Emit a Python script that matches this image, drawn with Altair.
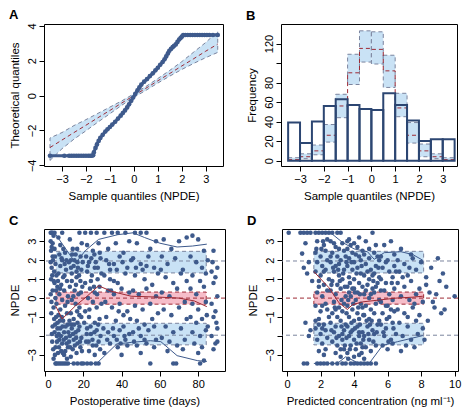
import altair as alt
import pandas as pd

FONT = "Liberation Sans"
PT = "#3E5A8C"
BAR = "#2C4672"
BLUE_BAND = "#C9E2F5"
PINK_BAND = "#F6BDC9"
DASH_GREY = "#7B849E"
DARK_RED = "#9E2A35"

# ---------------- Panel A: QQ plot ----------------
qq_points = [
    (-3.5, -3.45), (-2.9, -3.45), (-2.7, -3.45), (-2.6, -3.45), (-2.5, -3.45), (-2.4, -3.45),
    (-2.3, -3.45), (-2.2, -3.45), (-2.1, -3.45), (-2.0, -3.45), (-1.9, -3.45), (-1.82, -3.45),
    (-1.75, -3.45), (-1.7, -3.42), (-1.67, -3.26), (-1.6, -3.0), (-1.54, -2.8), (-1.47, -2.6),
    (-1.4, -2.43), (-1.3, -2.25), (-1.19, -2.06), (-1.1, -1.93), (-1.0, -1.8), (-0.9, -1.66),
    (-0.78, -1.5), (-0.66, -1.32), (-0.55, -1.15), (-0.46, -1.0), (-0.37, -0.85), (-0.28, -0.68),
    (-0.2, -0.5), (-0.11, -0.3), (-0.03, -0.11), (0.06, 0.1), (0.15, 0.3), (0.23, 0.47),
    (0.31, 0.63), (0.43, 0.8), (0.55, 0.95), (0.67, 1.12), (0.79, 1.28), (0.9, 1.45),
    (1.0, 1.6), (1.1, 1.77), (1.2, 1.93), (1.28, 2.08), (1.35, 2.25), (1.42, 2.42),
    (1.48, 2.57), (1.55, 2.68), (1.62, 2.78), (1.68, 2.86), (1.75, 2.94), (1.82, 3.08),
    (1.89, 3.22), (1.95, 3.3), (2.0, 3.38), (2.06, 3.47), (2.15, 3.48), (2.25, 3.48),
    (2.35, 3.48), (2.45, 3.48), (2.55, 3.48), (2.65, 3.48), (2.75, 3.48), (2.85, 3.48),
    (2.95, 3.48), (3.05, 3.48), (3.15, 3.48), (3.3, 3.48), (3.5, 3.48),
]
qq_band_x = [-3.5, -3, -2.5, -2, -1.5, -1, -0.5, 0, 0.5, 1, 1.5, 2, 2.5, 3, 3.5]
qq_band_mid = [-2.98, -2.55, -2.12, -1.7, -1.27, -0.85, -0.42, 0, 0.42, 0.85, 1.27, 1.7, 2.12, 2.55, 2.96]
qq_band_hi = [-2.43, -2.12, -1.72, -1.38, -1.02, -0.66, -0.3, 0.1, 0.52, 0.98, 1.45, 1.95, 2.5, 3.05, 3.68]
qq_band_lo = [-3.72, -3.05, -2.5, -2.02, -1.52, -1.04, -0.55, -0.1, 0.3, 0.72, 1.12, 1.5, 1.85, 2.18, 2.48]

# ---------------- Panel B: histogram ----------------
bin_left = [-3.5, -3.0, -2.5, -2.0, -1.5, -1.0, -0.5, 0.0, 0.5, 1.0, 1.5, 2.0, 2.5, 3.0]
bin_width = 0.5
bin_count = [39, 18, 40, 56, 63, 57, 53, 52, 69, 57, 41, 20, 22, 22]
pi_lo = [0, 2, 6, 19, 44, 78, 101, 99, 75, 45, 18, 4, 2, 0]
pi_med = [1, 4, 10, 26, 56, 90, 115, 114, 92, 54, 26, 10, 4, 1]
pi_hi = [3, 7, 16, 37, 68, 109, 133, 132, 108, 69, 39, 17, 7, 3]

# ---------------- Panel C: NPDE vs time ----------------
c_points = [
    (3, 3.45), (4, 3.45), (5, 3.45), (3.5, 3.45), (4.5, 3.3), (3, 3.0), (4, 2.9), (3.2, 2.5), (5, 2.6),
    (4, 2.2), (3, 1.9), (5.5, 1.8), (3.5, 1.6), (4.8, 1.4), (6, 1.2), (3.2, 1.0), (5, 0.8), (6.5, 0.6),
    (4, 0.4), (3, 0.2), (5.5, 0.0), (6, -0.3), (4.5, -0.5), (3.3, -0.8), (5.8, -1.0), (6.5, -1.3),
    (4, -1.5), (5, -1.8), (6.2, -2.0), (3.8, -2.3), (5.5, -2.6), (6.8, -2.9), (4.5, -3.2), (6, -3.45),
    (7, -3.45), (5.5, -3.45),
    (7, 3.2), (8, 2.8), (9, 3.45), (7.5, 2.3), (9, 2.0), (10.5, 2.4), (8, 1.7), (11, 1.5), (7, 1.3),
    (9.5, 1.1), (11.5, 0.9), (8.5, 0.7), (10, 0.4), (7.5, 0.2), (12, 0.1), (9, -0.1), (10.5, -0.4),
    (8, -0.6), (11.5, -0.8), (7, -0.9), (9.5, -1.2), (12, -1.4), (8, -1.6), (10, -1.8), (11, -2.1),
    (7.5, -2.2), (9, -2.4), (12, -2.6), (8.5, -2.8), (10, -3.0), (11.5, -3.2), (8, -3.45), (9, -3.45),
    (10, -3.45), (11, -3.45), (12, -3.45), (7.2, -1.9), (9.2, -1.5), (10.3, 1.8), (8.7, 2.1),
    (11.8, -0.2), (6.8, 0.9),
    (13, 3.1), (14.5, 2.6), (16, 2.3), (18, 3.45), (13.5, 2.0), (15, 1.7), (17, 1.9), (19, 1.5),
    (14, 1.3), (16.5, 1.1), (18.5, 0.9), (13, 0.6), (15.5, 0.4), (17.5, 0.2), (19.5, 0.6), (14, -0.1),
    (16, -0.3), (18, -0.5), (13.5, -0.8), (15, -1.1), (17, -1.3), (19, -1.0), (14, -1.6), (16, -1.8),
    (18, -1.5), (13, -2.0), (15, -2.2), (17, -2.4), (19, -2.1), (14.5, -2.7), (16.5, -2.9),
    (18.5, -2.6), (13.5, -3.1), (15, -3.45), (17, -3.45), (19, -3.45), (20, -3.45), (14, 0.9),
    (16.5, 1.4), (18, -0.9), (12.8, -1.2), (17.8, 1.2),
    (21, 3.45), (24, 3.45), (27, 3.45), (22, 2.8), (25, 2.5), (28, 2.9), (21.5, 2.2), (23, 1.9),
    (26, 1.6), (29, 2.1), (22, 1.4), (24.5, 1.2), (27.5, 1.0), (21, 0.8), (23.5, 0.5), (26, 0.3),
    (28.5, 0.6), (22.5, 0.0), (25, -0.2), (27, -0.5), (29.5, -0.3), (21, -0.7), (23, -1.0),
    (26, -1.3), (28.5, -1.1), (22, -1.6), (24, -1.9), (27, -1.7), (29, -2.0), (21.5, -2.3),
    (25, -2.5), (28, -2.3), (23, -2.8), (26, -3.0), (22, -3.45), (24, -3.45), (26.5, -3.45),
    (28, -3.45), (24, 0.9), (26.5, 1.9), (20.5, -1.3), (29.5, 1.3),
    (31, 3.45), (35, 3.45), (38, 3.45), (42, 3.45), (33, 2.6), (37, 2.9), (41, 2.4), (44, 3.0),
    (32, 2.0), (36, 1.8), (39, 2.2), (43, 1.6), (31, 1.2), (34, 1.0), (38, 0.8), (42, 1.3),
    (33, 0.4), (36, 0.2), (40, 0.5), (44, 0.3), (31.5, -0.2), (35, -0.5), (39, -0.3), (43, -0.7),
    (32, -1.0), (37, -1.2), (41, -1.5), (44.5, -1.1), (33, -1.8), (36, -2.0), (39, -1.7),
    (42, -2.2), (34, -2.4), (38, -2.6), (43, -2.5), (31, -2.9), (40, -3.0), (36, 0.9), (41, -0.9),
    (34, 1.5), (45, 2.0), (30.5, -1.6),
    (47, 3.45), (50, 3.45), (53, 3.45), (48, 2.9), (55, 2.6), (58, 3.0), (46, 2.1), (50, 1.8),
    (54, 2.2), (57, 1.6), (47, 1.2), (52, 1.0), (56, 0.7), (59, 1.3), (46, 0.4), (49, 0.2),
    (53, 0.5), (58, 0.1), (47, -0.4), (51, -0.6), (55, -0.3), (59, -0.8), (48, -1.2), (52, -1.4),
    (56, -1.1), (46, -1.8), (50, -2.0), (54, -1.7), (58, -2.2), (48, -2.5), (53, -2.4), (57, -2.6),
    (55, -3.45), (50, -2.9), (51, 1.5), (57, -1.5),
    (62, 3.1), (66, 2.6), (70, 3.0), (74, 3.2), (61, 2.2), (64, 1.8), (68, 2.1), (72, 1.5),
    (63, 1.1), (67, 0.8), (71, 1.3), (74, 0.9), (61, 0.3), (65, 0.1), (69, 0.5), (73, -0.2),
    (62, -0.6), (66, -0.9), (70, -0.5), (74, -1.1), (63, -1.5), (67, -1.8), (71, -1.6), (61, -2.1),
    (65, -2.3), (69, -2.5), (73, -2.2), (64, -2.8), (67, -3.45), (68.5, -3.45), (72, -2.7),
    (60.5, 1.5),
    (77, 3.3), (80, 3.1), (83, 2.5), (76, 2.2), (79, 1.9), (82, 1.6), (85, 2.0), (77, 1.2),
    (81, 0.9), (84, 1.3), (76, 0.5), (79, 0.2), (83, 0.6), (77, -0.3), (80, -0.6), (84, -0.2),
    (76, -1.0), (79, -1.3), (82, -1.1), (85, -1.5), (77, -1.8), (81, -2.0), (84, -1.7), (78, -2.4),
    (82, -2.6), (80, -2.9), (81, -3.45), (83, -3.3), (84.5, -0.9),
    (88, 2.5), (90, 1.6), (87, 1.4), (89, 1.1), (88, 0.8), (90, 0.1), (87, -0.3), (89, -0.7),
    (88, -1.0), (90, -1.6), (87, -2.0), (89, -2.4), (88, -2.7), (90, -2.3), (87.5, 1.9), (89.5, -1.3),
    # denser early region
    (3.5, 2.7), (4.2, 2.0), (5.2, 2.2), (3.8, 1.2), (4.6, 0.9), (5.8, 0.4), (3.4, -0.2), (4.8, -1.1),
    (5.3, -1.4), (3.6, -1.9), (4.3, -2.7), (6.3, -2.3), (5.2, -3.0), (6.6, -1.6), (7.8, -1.2),
    (8.3, -2.0), (9.8, -2.2), (10.8, -1.5), (11.3, -2.4), (7.3, -2.6), (9.3, -2.9), (10.6, -2.8),
    (8.8, -1.0), (7.9, 0.5), (10.2, 1.2), (11.2, 2.0), (9.6, 2.6), (12.5, 1.9), (12.2, -1.8),
    (12.6, -2.3), (13.8, -1.4), (14.6, -1.9), (15.6, -2.5), (16.3, -2.1), (17.4, -1.7), (18.3, -2.3),
    (19.3, -2.8), (13.2, -2.6), (15.2, -1.4), (16.8, -0.7), (14.8, 0.1), (16.2, 0.7), (18.8, 0.3),
    (13.6, 1.6), (15.4, 2.0), (17.2, 1.6), (18.6, 2.2), (19.7, 1.9), (14.2, 2.3), (16.8, 2.6),
    (19.2, 2.9), (21.8, -1.9), (22.8, -2.3), (23.8, -1.5), (24.8, -2.2), (25.8, -1.8), (26.8, -2.5),
    (27.8, -1.4), (28.8, -2.7), (23.2, -0.6), (25.6, 0.6), (27.2, 0.2), (22.4, 1.7), (24.2, 2.1),
    (25.8, 2.3), (27.6, 1.6), (28.6, 2.4), (32.5, -2.2), (35.5, -1.6), (37.5, -2.2), (39.5, -2.4),
    (41.5, -2.0), (33.5, 1.8), (37.5, 1.5), (40.5, 1.9), (34.5, 0.4), (38.5, -0.7), (44, -1.9),
    (46.5, -2.3), (49, -1.6), (52, -2.2), (47.5, 1.6), (53, 1.7),
]
c_hi_line = [(5, 3.45), (16, 1.85), (21, 2.5), (28, 3.1), (38, 3.35), (46, 3.45), (52, 3.2),
             (60, 2.9), (69, 2.7), (77, 2.75), (84.5, 2.85)]
c_med_line = [(5.5, -0.4), (9, -1.1), (13, -0.7), (16, -0.4), (22, 0.1), (28, 0.65), (35, 0.35),
              (45, 0.1), (60, 0.05), (70, 0.0), (78, -0.15), (84.5, -0.45)]
c_lo_line = [(5, -3.45), (27, -3.45), (37.5, -2.42), (45, -2.34), (55, -2.25), (60.5, -2.3),
             (69, -3.04), (79.5, -3.3), (84.5, -3.35)]
c_band_x = [5.8, 84.2]

# ---------------- Panel D: NPDE vs concentration ----------------
d_points = [
    (0.1, 3.45), (0.8, 3.45), (1.0, 3.45), (1.2, 3.45), (1.4, 3.45), (1.1, 2.9), (0.9, 2.35),
    (1.3, 1.9), (1.0, 1.6), (1.2, 1.3), (1.5, 0.9), (1.1, -1.3), (1.4, -1.7), (1.3, -2.0),
    (1.0, -3.45), (1.2, -3.45),
    (1.7, 3.45), (1.9, 3.45), (2.1, 3.45), (2.3, 3.45), (2.5, 3.45), (1.8, 3.0), (2.2, 2.8),
    (2.4, 3.1), (1.7, 2.4), (2.0, 2.2), (2.3, 2.5), (1.8, 1.9), (2.1, 1.7), (2.4, 2.0), (1.7, 1.4),
    (2.0, 1.2), (2.3, 1.5), (1.9, 0.9), (2.2, 0.7), (2.5, 1.0), (1.8, 0.3), (2.1, 0.1), (2.4, 0.4),
    (1.7, -0.4), (2.0, -0.7), (2.3, -0.3), (1.9, -1.1), (2.2, -1.4), (2.5, -1.0), (1.7, -1.6),
    (2.0, -1.9), (2.3, -1.7), (1.8, -2.2), (2.1, -2.4), (2.4, -2.1), (1.9, -2.8), (2.2, -3.0),
    (1.8, -3.45), (2.0, -3.45), (2.2, -3.45), (2.4, -3.45), (1.7, -1.2),
    (2.7, 3.45), (3.0, 3.45), (3.2, 3.45), (2.6, 3.0), (2.9, 2.7), (3.3, 2.9), (2.7, 2.4),
    (3.0, 2.2), (3.4, 2.5), (2.6, 1.9), (2.9, 1.7), (3.2, 2.0), (2.8, 1.4), (3.1, 1.2), (3.4, 1.5),
    (2.7, 0.9), (3.0, 0.7), (3.3, 1.0), (2.6, 0.4), (2.9, 0.2), (3.2, 0.5), (3.5, 0.1), (2.8, -0.2),
    (3.1, -0.5), (3.4, -0.3), (2.7, -0.8), (3.0, -1.0), (3.3, -0.7), (2.6, -1.3), (2.9, -1.5),
    (3.2, -1.2), (3.5, -1.4), (2.8, -1.8), (3.1, -2.0), (3.4, -1.7), (2.7, -2.3), (3.0, -2.5),
    (3.3, -2.2), (2.9, -2.9), (3.2, -3.1), (3.4, -2.7), (2.7, -3.45), (3.0, -3.45), (3.3, -3.45),
    (3.5, -3.45), (3.1, 1.8), (2.9, -0.6), (3.3, -1.9),
    (3.7, 3.1), (4.0, 2.9), (4.3, 3.2), (3.6, 2.6), (3.9, 2.4), (4.2, 2.7), (4.5, 2.5), (3.7, 2.1),
    (4.0, 1.9), (4.3, 2.2), (3.6, 1.7), (3.9, 1.5), (4.2, 1.6), (4.4, 1.3), (3.7, 1.1), (4.0, 1.0),
    (4.3, 0.8), (3.6, 0.6), (3.9, 0.5), (4.2, 0.3), (4.5, 0.6), (3.8, 0.1), (4.1, -0.1),
    (4.4, -0.3), (3.6, -0.4), (3.9, -0.6), (4.2, -0.8), (4.5, -0.5), (3.7, -1.0), (4.0, -1.2),
    (4.3, -1.1), (3.6, -1.5), (3.9, -1.7), (4.2, -1.5), (4.5, -1.8), (3.7, -2.0), (4.0, -2.2),
    (4.3, -2.0), (3.8, -2.5), (4.1, -2.7), (4.4, -2.4), (3.6, -2.9), (4.0, -3.1), (4.3, -3.0),
    (3.8, -3.45), (4.2, -3.45), (4.4, -3.45), (3.75, 0.8), (4.15, 1.3), (4.35, -1.4), (3.85, -1.3),
    (4.05, 0.3), (4.45, -2.9), (3.65, -0.1),
    (4.7, 3.0), (5.1, 3.45), (5.3, 2.8), (4.6, 2.3), (4.9, 2.1), (5.2, 2.4), (5.5, 2.0), (4.7, 1.8),
    (5.0, 1.5), (5.3, 1.7), (4.6, 1.2), (4.9, 1.0), (5.2, 1.3), (5.5, 1.1), (4.8, 0.7), (5.1, 0.5),
    (5.4, 0.8), (4.6, 0.2), (4.9, 0.0), (5.2, 0.3), (5.5, -0.1), (4.7, -0.4), (5.0, -0.6),
    (5.3, -0.3), (4.6, -0.9), (4.9, -1.1), (5.2, -0.8), (5.5, -1.2), (4.8, -1.5), (5.1, -1.7),
    (5.4, -1.4), (4.6, -2.0), (4.9, -2.2), (5.2, -1.9), (4.7, -2.6), (5.0, -2.8), (5.3, -2.5),
    (4.8, -3.45), (5.0, -3.45), (5.3, -3.45), (4.6, -3.2), (5.45, 1.6), (4.95, -1.4), (5.15, 0.9),
    (5.8, 2.8), (6.2, 3.0), (5.6, 2.2), (6.0, 2.0), (6.4, 2.3), (5.7, 1.6), (6.1, 1.4), (6.4, 1.7),
    (5.6, 1.0), (5.9, 0.8), (6.3, 1.1), (5.8, 0.4), (6.1, 0.2), (6.4, 0.5), (5.6, -0.2), (6.0, -0.4),
    (6.3, -0.1), (5.7, -0.8), (6.1, -1.0), (6.4, -0.7), (5.6, -1.4), (5.9, -1.6), (6.3, -1.3),
    (5.8, -2.0), (6.2, -2.2), (6.5, -1.9), (5.7, -2.5), (6.0, -2.7), (6.3, -2.4), (5.95, -1.1),
    (6.25, 0.8),
    (6.8, 2.6), (7.4, 2.3), (6.6, 2.0), (7.0, 1.8), (7.5, 2.1), (8.0, 1.9), (6.7, 1.4), (7.2, 1.2),
    (7.7, 1.5), (6.6, 0.8), (7.0, 0.6), (7.4, 0.9), (7.9, 0.5), (6.8, 0.1), (7.3, -0.1), (7.7, 0.2),
    (8.1, -0.2), (6.6, -0.6), (7.0, -0.8), (7.5, -0.5), (7.9, -0.9), (6.7, -1.3), (7.2, -1.5),
    (7.7, -1.2), (8.1, -1.6), (6.9, -2.0), (7.4, -2.2), (7.8, -1.9), (6.8, -2.8), (7.1, -2.5),
    (7.6, -2.6),
    (8.3, 0.7), (8.5, 0.3), (8.8, -0.5), (9.0, 2.1), (9.3, 1.3), (9.5, 0.6), (8.4, -1.2),
    (8.7, -0.2), (10.0, 0.1), (9.2, -0.8), (8.2, -2.2), (9.1, 0.9), (8.6, 1.6), (8.9, 0.2),
    (9.4, -0.6), (8.3, 1.1),
    # denser core
    (2.6, 2.2), (2.8, 2.9), (3.1, 2.6), (3.5, 2.2), (3.6, 3.0), (3.8, 2.8), (4.1, 2.3), (4.4, 2.0),
    (2.75, 1.6), (3.05, 1.5), (3.35, 1.3), (3.55, 1.9), (3.85, 1.9), (4.45, 1.7), (2.65, 0.7),
    (3.15, 0.9), (3.45, 0.6), (3.7, 0.3), (4.0, 0.5), (4.35, 0.2), (2.85, -0.5), (3.25, -0.1),
    (3.55, -0.8), (3.95, -0.3), (4.25, -0.5), (4.55, -0.9), (2.65, -1.7), (2.95, -2.1), (3.25, -1.5),
    (3.55, -2.1), (3.8, -1.8), (4.05, -1.6), (4.3, -1.8), (4.55, -2.2), (3.45, -2.5), (3.75, -2.7),
    (4.15, -2.4), (4.5, -2.6), (3.2, -2.7), (3.65, -3.2), (4.0, -3.45), (4.6, -3.45), (4.75, -1.2),
    (5.05, -1.2), (5.35, -1.8), (4.85, -1.9), (5.15, -2.3), (4.7, 0.4), (5.0, 0.2), (5.3, 0.6),
    (4.8, 1.4), (5.1, 1.2), (5.4, 2.2), (4.9, 2.6), (5.6, 0.4), (5.9, -0.4), (6.2, -0.6),
    (5.75, -1.8), (6.05, -2.3), (6.35, -1.6), (6.5, 1.4), (5.9, 1.9), (7.2, -1.0), (7.6, -0.3),
    (6.9, 1.1), (7.3, 1.6), (2.1, -0.4), (1.9, 0.6), (2.2, 1.4), (2.4, -0.6), (2.1, -1.6),
    (2.3, -2.7), (1.9, -1.4), (1.75, 2.6), (2.05, 2.6), (2.15, 3.0),
]
d_hi_line = [(1.6, 3.45), (2.6, 3.45), (3.3, 2.95), (4.0, 2.6), (4.8, 2.45), (5.2, 2.05),
             (5.8, 2.4), (6.8, 2.45), (7.5, 2.3), (8.1, 2.0)]
d_med_line = [(1.6, 1.4), (2.5, 0.55), (3.1, -0.25), (3.6, -0.6), (3.9, -0.35), (4.5, -0.2),
              (5.5, -0.1), (6.5, 0.0), (7.5, 0.05), (8.1, 0.1)]
d_lo_line = [(1.6, -3.45), (3.0, -3.45), (3.5, -3.1), (4.3, -3.45), (4.9, -3.45), (5.7, -2.5),
             (6.6, -2.3), (8.1, -1.98)]
d_band_x = [1.6, 8.15]

# shared band limits for panels C and D
band_upper = [1.33, 2.47]
band_mid = [-0.32, 0.32]
band_lower = [-2.47, -1.33]
ref_levels = [-1.96, 0.0, 1.96]

W_A, W_B, W_C, W_D = 179, 176, 181, 176
H = 142


def yaxis(title, values, hide=None):
    kw = dict(values=values, title=title, labelAngle=-90)
    if hide is not None:
        kw["labelExpr"] = "datum.value == %s ? '' : datum.label" % hide
    return alt.Axis(**kw)


def panel_title(t):
    return alt.TitleParams(t, anchor="start", fontSize=13, fontWeight="bold",
                           font=FONT, offset=1, color="black")


# ---------- Panel A ----------
xa = alt.Scale(domain=[-3.75, 3.72], nice=False, zero=False)
ya = alt.Scale(domain=[-4.04, 4.11], nice=False, zero=False)
ax_a = alt.Axis(values=[-3, -2, -1, 0, 1, 2, 3], title="Sample quantiles (NPDE)")
ay_a = yaxis("Theoretical quantiles", [-4, -2, 0, 2, 4])

XA = lambda f: alt.X(f, type="quantitative", scale=xa, axis=ax_a)
YA = lambda f: alt.Y(f, type="quantitative", scale=ya, axis=ay_a)

dfa_band = pd.DataFrame({"x": qq_band_x, "lo": qq_band_lo, "mid": qq_band_mid, "hi": qq_band_hi})
outline_x = qq_band_x + qq_band_x[::-1] + [qq_band_x[0]]
outline_y = qq_band_lo + qq_band_hi[::-1] + [qq_band_lo[0]]
dfa_outline = pd.DataFrame({"x": outline_x, "y": outline_y, "o": list(range(len(outline_x)))})
dfa_qq = pd.DataFrame(qq_points, columns=["x", "y"])
dfa_qq["o"] = range(len(dfa_qq))

a_band = alt.Chart(dfa_band).mark_area(color=BLUE_BAND, opacity=1).encode(x=XA("x"), y=YA("lo"), y2="hi")
a_outline = alt.Chart(dfa_outline).mark_line(color=DASH_GREY, strokeDash=[4, 3], strokeWidth=1).encode(
    x=XA("x"), y=YA("y"), order="o:Q")
a_mid = alt.Chart(dfa_band).mark_line(color=DARK_RED, strokeDash=[4, 3], strokeWidth=1).encode(x=XA("x"), y=YA("mid"))
a_line = alt.Chart(dfa_qq).mark_line(color=PT, strokeWidth=3).encode(x=XA("x"), y=YA("y"), order="o:Q")
a_pts = alt.Chart(dfa_qq).mark_circle(color=PT, size=22, opacity=1).encode(x=XA("x"), y=YA("y"))
chart_a = alt.layer(a_band, a_outline, a_mid, a_line, a_pts).properties(
    width=W_A, height=H, title=panel_title("A"))

# ---------- Panel B ----------
xb = alt.Scale(domain=[-3.8, 3.6], nice=False, zero=False)
yb = alt.Scale(domain=[-5.5, 140], nice=False, zero=False)
ax_b = alt.Axis(values=[-3, -2, -1, 0, 1, 2, 3], title="Sample quantiles (NPDE)")
ay_b = yaxis("Frequency", [0, 20, 40, 60, 80, 100, 120], hide=100)
XB = lambda f: alt.X(f, type="quantitative", scale=xb, axis=ax_b)
YB = lambda f: alt.Y(f, type="quantitative", scale=yb, axis=ay_b)

dfb = pd.DataFrame({
    "l": bin_left,
    "r": [b + bin_width for b in bin_left],
    "n": bin_count,
    "zero": [0] * len(bin_left),
    "lo": pi_lo, "med": pi_med, "hi": pi_hi,
})
step_x, step_y = [], []
for b, m in zip(bin_left, pi_med):
    step_x += [b, b + bin_width]
    step_y += [m, m]
dfb_step = pd.DataFrame({"x": step_x, "y": step_y, "o": list(range(len(step_x)))})

b_pi = alt.Chart(dfb).mark_rect(fill=BLUE_BAND, stroke=DASH_GREY, strokeDash=[4, 3], strokeWidth=1).encode(
    x=XB("l"), x2="r", y=YB("lo"), y2="hi")
b_med = alt.Chart(dfb_step).mark_line(color=DARK_RED, strokeDash=[4, 3], strokeWidth=1).encode(
    x=XB("x"), y=YB("y"), order="o:Q")
b_bars = alt.Chart(dfb).mark_rect(fillOpacity=0, stroke=BAR, strokeWidth=2).encode(
    x=XB("l"), x2="r", y=YB("zero"), y2="n")
chart_b = alt.layer(b_pi, b_med, b_bars).properties(width=W_B, height=H, title=panel_title("B"))


# ---------- Panels C and D ----------
def scatter_panel(points, hi_line, med_line, lo_line, band_x, xdomain, xvalues, xtitle, width, letter):
    xs = alt.Scale(domain=xdomain, nice=False, zero=False)
    ys = alt.Scale(domain=[-3.85, 3.65], nice=False, zero=False)
    axx = alt.Axis(values=xvalues, title=xtitle)
    axy = yaxis("NPDE", [-3, -2, -1, 0, 1, 2, 3], hide=-2)
    X = lambda f: alt.X(f, type="quantitative", scale=xs, axis=axx)
    Y = lambda f: alt.Y(f, type="quantitative", scale=ys, axis=axy)

    dfband = pd.DataFrame({
        "x1": [band_x[0]] * 3, "x2": [band_x[1]] * 3,
        "y1": [band_lower[0], band_mid[0], band_upper[0]],
        "y2": [band_lower[1], band_mid[1], band_upper[1]],
        "fill": [BLUE_BAND, PINK_BAND, BLUE_BAND],
        "stroke": [DASH_GREY, DARK_RED, DASH_GREY],
    })
    dfref = pd.DataFrame({"y": ref_levels, "c": [DASH_GREY, DARK_RED, DASH_GREY]})
    dfp = pd.DataFrame(points, columns=["x", "y"])
    rows = []
    for name, line, col in (("hi", hi_line, PT), ("med", med_line, DARK_RED), ("lo", lo_line, PT)):
        for i, (x, y) in enumerate(line):
            rows.append({"x": x, "y": y, "s": name, "c": col, "o": i})
    dfl = pd.DataFrame(rows)

    band = alt.Chart(dfband).mark_rect(strokeDash=[4, 3], strokeWidth=1).encode(
        x=X("x1"), x2="x2", y=Y("y1"), y2="y2",
        fill=alt.Fill("fill:N", scale=None), stroke=alt.Stroke("stroke:N", scale=None))
    refs = alt.Chart(dfref).mark_rule(strokeDash=[4, 3], strokeWidth=1).encode(
        y=Y("y"), color=alt.Color("c:N", scale=None))
    pts = alt.Chart(dfp).mark_circle(color=PT, size=21, opacity=1).encode(x=X("x"), y=Y("y"))
    lines = alt.Chart(dfl).mark_line(strokeWidth=1).encode(
        x=X("x"), y=Y("y"), detail="s:N", order="o:Q", color=alt.Color("c:N", scale=None))
    return alt.layer(band, refs, pts, lines).properties(width=width, height=H, title=panel_title(letter))


chart_c = scatter_panel(c_points, c_hi_line, c_med_line, c_lo_line, c_band_x, [-0.5, 94],
                        [0, 20, 40, 60, 80], "Postoperative time (days)", W_C, "C")
chart_d = scatter_panel(d_points, d_hi_line, d_med_line, d_lo_line, d_band_x, [-0.3, 10.2],
                        [0, 2, 4, 6, 8, 10], "Predicted concentration (ng ml\u207b\u00b9)", W_D, "D")

chart = alt.vconcat(
    alt.hconcat(chart_a, chart_b, spacing=20),
    alt.hconcat(chart_c, chart_d, spacing=20),
    spacing=12,
).properties(padding=0).configure_view(
    stroke="black", strokeWidth=1
).configure_axis(
    grid=False, domain=False, tickColor="black", tickSize=5, labelColor="black", titleColor="black",
    labelFont=FONT, titleFont=FONT, labelFontSize=11, titleFontSize=11.5, titleFontWeight="normal",
    labelPadding=2, titlePadding=6,
)

chart.save("out.html", embed_options={"renderer": "svg", "actions": False})
